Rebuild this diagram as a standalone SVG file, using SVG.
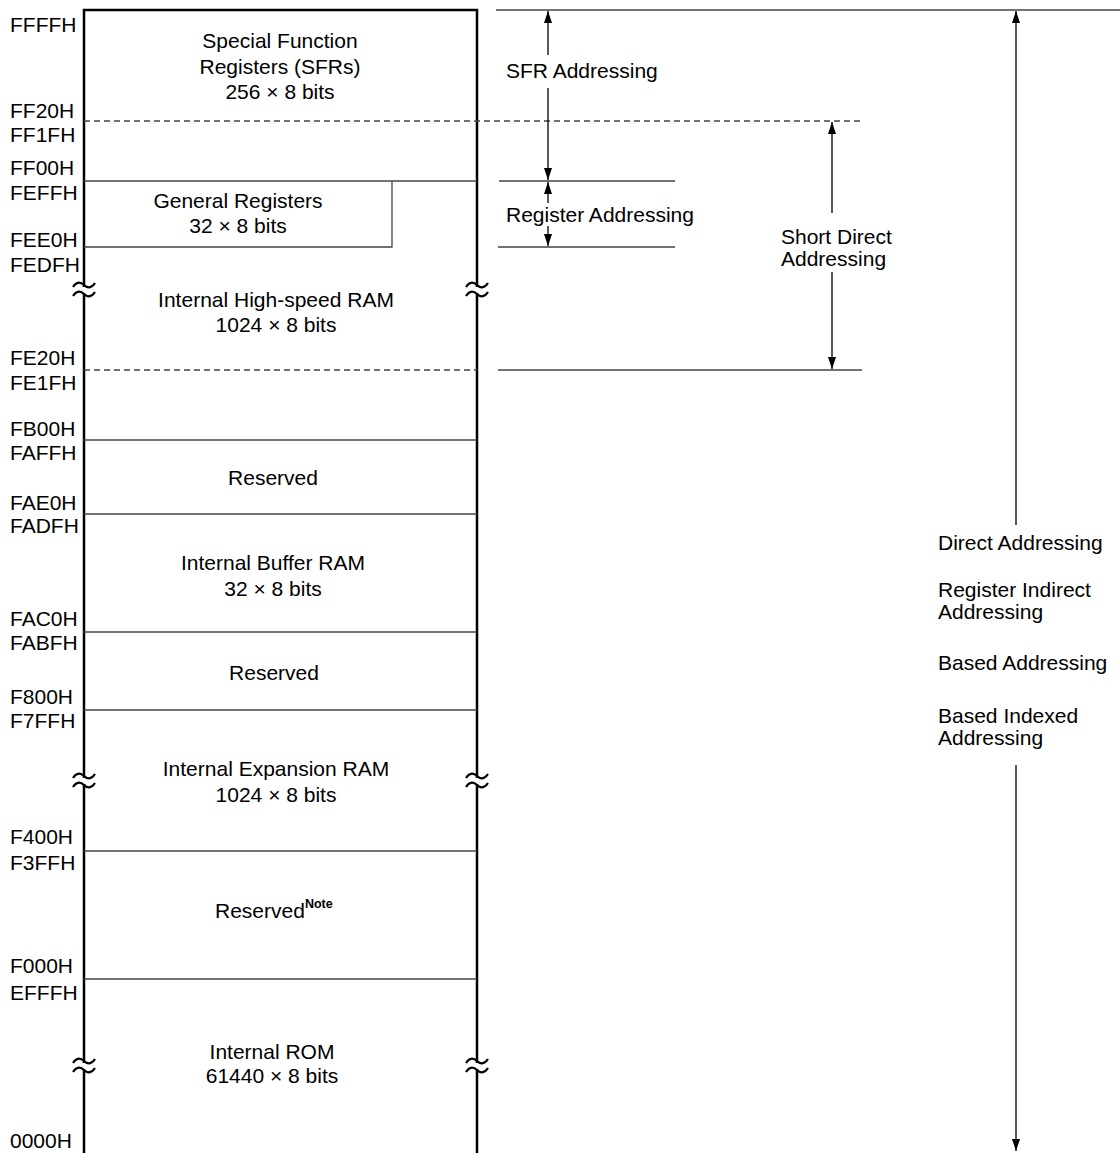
<svg xmlns="http://www.w3.org/2000/svg" width="1120" height="1153" viewBox="0 0 1120 1153">
<style>
text{font-family:"Liberation Sans",Arial,sans-serif;font-size:21px;fill:#000}
.c{text-anchor:middle}
.edge{stroke:#000;stroke-width:2.5;fill:none}
.sep{stroke:#444;stroke-width:1.3;fill:none}
.dash{stroke:#444;stroke-width:1.3;stroke-dasharray:6 4;fill:none}
.arr{stroke:#000;stroke-width:1.3;fill:none}
.note{font-size:12.5px;font-weight:bold}
</style>
<defs>
<marker id="ah" viewBox="0 0 12 8" refX="12" refY="4" markerWidth="12" markerHeight="8" markerUnits="userSpaceOnUse" orient="auto-start-reverse">
<path d="M0,0 L12,4 L0,8 Z" fill="#000"/>
</marker>
<g id="brk">
<rect x="-3" y="-3" width="6" height="6" fill="#fff"/>
<path d="M-11,-3 C-7,-9 -3,-8 0,-5 S7,-1 11,-7 M-11,6 C-7,0 -3,1 0,4 S7,8 11,2" stroke="#000" stroke-width="2.2" fill="none"/>
</g>
</defs>
<rect width="1120" height="1153" fill="#fff"/>

<g id="memory-map">
<path class="edge" d="M84,1153 V10 H477 V1153"/>
<line class="dash" x1="84" y1="121" x2="862" y2="121"/>
<line class="sep" x1="84" y1="181" x2="477" y2="181"/>
<path class="sep" d="M392,181 V247 H84"/>
<line class="dash" x1="84" y1="370" x2="477" y2="370"/>
<line class="sep" x1="84" y1="440" x2="477" y2="440"/>
<line class="sep" x1="84" y1="514" x2="477" y2="514"/>
<line class="sep" x1="84" y1="632" x2="477" y2="632"/>
<line class="sep" x1="84" y1="710" x2="477" y2="710"/>
<line class="sep" x1="84" y1="851" x2="477" y2="851"/>
<line class="sep" x1="84" y1="979" x2="477" y2="979"/>
<use href="#brk" x="84" y="290"/>
<use href="#brk" x="477" y="290"/>
<use href="#brk" x="84" y="781"/>
<use href="#brk" x="477" y="781"/>
<use href="#brk" x="84" y="1066"/>
<use href="#brk" x="477" y="1066"/>
</g>

<g id="addresses">
<text x="10" y="32">FFFFH</text>
<text x="10" y="118">FF20H</text>
<text x="10" y="142">FF1FH</text>
<text x="10" y="175">FF00H</text>
<text x="10" y="200">FEFFH</text>
<text x="10" y="247">FEE0H</text>
<text x="10" y="272">FEDFH</text>
<text x="10" y="365">FE20H</text>
<text x="10" y="390">FE1FH</text>
<text x="10" y="436">FB00H</text>
<text x="10" y="460">FAFFH</text>
<text x="10" y="510">FAE0H</text>
<text x="10" y="533">FADFH</text>
<text x="10" y="626">FAC0H</text>
<text x="10" y="650">FABFH</text>
<text x="10" y="704">F800H</text>
<text x="10" y="728">F7FFH</text>
<text x="10" y="844">F400H</text>
<text x="10" y="870">F3FFH</text>
<text x="10" y="973">F000H</text>
<text x="10" y="1000">EFFFH</text>
<text x="10" y="1148">0000H</text>
</g>

<g id="sfr"><text class="c" x="280" y="48">Special Function</text><text class="c" x="280" y="74">Registers (SFRs)</text><text class="c" x="280" y="99">256 × 8 bits</text></g>
<g id="general-registers"><text class="c" x="238" y="208">General Registers</text><text class="c" x="238" y="233">32 × 8 bits</text></g>
<g id="high-speed-ram"><text class="c" x="276" y="307">Internal High-speed RAM</text><text class="c" x="276" y="332">1024 × 8 bits</text></g>
<g id="reserved-1"><text class="c" x="273" y="485">Reserved</text></g>
<g id="buffer-ram"><text class="c" x="273" y="570">Internal Buffer RAM</text><text class="c" x="273" y="596">32 × 8 bits</text></g>
<g id="reserved-2"><text class="c" x="274" y="680">Reserved</text></g>
<g id="expansion-ram"><text class="c" x="276" y="776">Internal Expansion RAM</text><text class="c" x="276" y="802">1024 × 8 bits</text></g>
<g id="reserved-3"><text x="215" y="918">Reserved<tspan class="note" dy="-10">Note</tspan></text></g>
<g id="rom"><text class="c" x="272" y="1059">Internal ROM</text><text class="c" x="272" y="1083">61440 × 8 bits</text></g>

<g id="connectors">
<line class="sep" x1="496" y1="10" x2="1120" y2="10"/>
<line class="sep" x1="499" y1="181" x2="675" y2="181"/>
<line class="sep" x1="498" y1="247" x2="675" y2="247"/>
<line class="sep" x1="498" y1="370" x2="862" y2="370"/>
<line class="arr" x1="548" y1="55" x2="548" y2="11" marker-end="url(#ah)"/>
<line class="arr" x1="548" y1="88" x2="548" y2="180" marker-end="url(#ah)"/>
<line class="arr" x1="548" y1="203" x2="548" y2="182" marker-end="url(#ah)"/>
<line class="arr" x1="548" y1="226" x2="548" y2="246" marker-end="url(#ah)"/>
<line class="arr" x1="832" y1="213" x2="832" y2="122" marker-end="url(#ah)"/>
<line class="arr" x1="832" y1="272" x2="832" y2="369" marker-end="url(#ah)"/>
<line class="arr" x1="1016" y1="525" x2="1016" y2="11" marker-end="url(#ah)"/>
<line class="arr" x1="1016" y1="765" x2="1016" y2="1151" marker-end="url(#ah)"/>
</g>

<g id="labels">
<text x="506" y="78">SFR Addressing</text>
<text x="506" y="222">Register Addressing</text>
<text x="781" y="244">Short Direct</text>
<text x="781" y="266">Addressing</text>
<text x="938" y="550">Direct Addressing</text>
<text x="938" y="597">Register Indirect</text>
<text x="938" y="619">Addressing</text>
<text x="938" y="670">Based Addressing</text>
<text x="938" y="723">Based Indexed</text>
<text x="938" y="745">Addressing</text>
</g>
</svg>
